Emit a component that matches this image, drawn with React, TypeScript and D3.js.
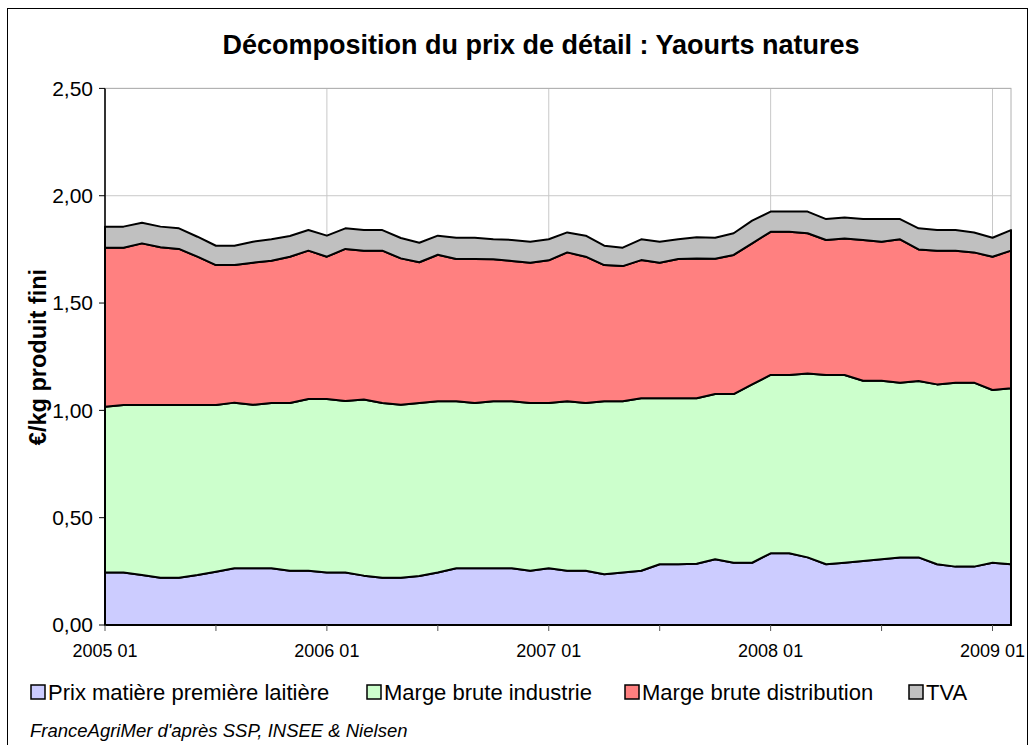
import React from "react";
import * as d3 from "d3";

const seriesNames = [
  "Prix matière première laitière",
  "Marge brute industrie",
  "Marge brute distribution",
  "TVA",
];
const seriesColors = ["#CCCCFF", "#CCFFCC", "#FF8080", "#C0C0C0"];

// monthly values 2005 01 .. 2009 02 (€/kg produit fini)
const prixMatiere = [
  0.245, 0.245, 0.233, 0.22, 0.22, 0.233, 0.248, 0.264, 0.264, 0.264, 0.253, 0.253,
  0.245, 0.245, 0.23, 0.22, 0.22, 0.228, 0.245, 0.264, 0.264, 0.264, 0.264, 0.253,
  0.264, 0.253, 0.253, 0.236, 0.245, 0.253, 0.283, 0.283, 0.285, 0.306, 0.29, 0.29,
  0.334, 0.334, 0.315, 0.283, 0.29, 0.298, 0.306, 0.315, 0.315, 0.283, 0.272, 0.272,
  0.29, 0.283,
];
const margeIndustrie = [
  0.772, 0.78, 0.792, 0.805, 0.805, 0.792, 0.777, 0.772, 0.762, 0.77, 0.781, 0.8,
  0.808, 0.799, 0.821, 0.814, 0.806, 0.806, 0.797, 0.778, 0.77, 0.778, 0.778, 0.781,
  0.77, 0.789, 0.781, 0.806, 0.797, 0.803, 0.773, 0.773, 0.771, 0.77, 0.786, 0.831,
  0.831, 0.831, 0.857, 0.882, 0.875, 0.84, 0.832, 0.814, 0.822, 0.838, 0.857, 0.857,
  0.805, 0.82,
];
const margeDistribution = [
  0.741, 0.733, 0.753, 0.735, 0.727, 0.691, 0.652, 0.641, 0.662, 0.663, 0.682, 0.691,
  0.663, 0.708, 0.693, 0.71, 0.682, 0.656, 0.683, 0.663, 0.671, 0.662, 0.654, 0.654,
  0.665, 0.694, 0.682, 0.635, 0.63, 0.644, 0.632, 0.649, 0.652, 0.63, 0.648, 0.657,
  0.667, 0.667, 0.653, 0.629, 0.636, 0.656, 0.648, 0.668, 0.613, 0.623, 0.615, 0.607,
  0.621, 0.641,
];
const tva = [
  0.098, 0.098, 0.096, 0.096, 0.096, 0.093, 0.09, 0.09, 0.098, 0.1, 0.096, 0.096,
  0.098, 0.096, 0.096, 0.096, 0.095, 0.091, 0.089, 0.099, 0.099, 0.093, 0.098, 0.098,
  0.098, 0.093, 0.098, 0.09, 0.086, 0.097, 0.098, 0.092, 0.098, 0.098, 0.101, 0.106,
  0.094, 0.094, 0.101, 0.097, 0.098, 0.097, 0.105, 0.094, 0.098, 0.096, 0.096, 0.093,
  0.088, 0.096,
];

const yTicks = [0, 0.5, 1, 1.5, 2, 2.5];
const xLabelIdx = [0, 12, 24, 36, 48];
const xLabels = ["2005 01", "2006 01", "2007 01", "2008 01", "2009 01"];
const xMinorIdx = [0, 6, 12, 18, 24, 30, 36, 42, 48];

const title = "Décomposition du prix de détail : Yaourts natures";
const yTitle = "€/kg produit fini";
const source = "FranceAgriMer d'après SSP, INSEE & Nielsen";

const FONT = "'Liberation Sans', Arial, sans-serif";

export default function App() {
  const W = 1035;
  const H = 745;
  const left = 105;
  const right = 1011;
  const top = 88.4;
  const bottom = 625;

  const table = prixMatiere.map((_, i) => ({
    i,
    s0: prixMatiere[i],
    s1: margeIndustrie[i],
    s2: margeDistribution[i],
    s3: tva[i],
  }));
  const keys = ["s0", "s1", "s2", "s3"];
  const stacked = d3.stack<any>().keys(keys)(table);

  const x = d3.scaleLinear().domain([0, prixMatiere.length - 1]).range([left, right]);
  const y = d3.scaleLinear().domain([0, 2.5]).range([bottom, top]);

  const area = d3
    .area<any>()
    .x((d) => x(d.data.i))
    .y0((d) => y(d[0]))
    .y1((d) => y(d[1]));

  const fmt = (v: number) => d3.format(".2f")(v).replace(".", ",");

  const legendX = [31, 367, 625, 909];

  return (
    <svg
      width={W}
      height={H}
      style={{ position: "absolute", left: 0, top: 0, background: "#fff" }}
      fontFamily={FONT}
    >
      <rect x={7.5} y={8.5} width={1020} height={760} fill="#fff" stroke="#000" strokeWidth={1} />
      <text x={541} y={54} textAnchor="middle" fontSize={27} fontWeight="bold" fill="#000">
        {title}
      </text>

      {/* gridlines */}
      {yTicks.map((t) => (
        <line key={"gy" + t} x1={left} x2={right} y1={y(t)} y2={y(t)} stroke="#c8c8c8" strokeWidth={1} />
      ))}
      {xLabelIdx.map((i) => (
        <line key={"gx" + i} x1={x(i)} x2={x(i)} y1={top} y2={bottom} stroke="#c8c8c8" strokeWidth={1} />
      ))}
      <rect x={left} y={top} width={right - left} height={bottom - top} fill="none" stroke="#b0b0b0" strokeWidth={1} />

      {/* areas */}
      {stacked.map((s, k) => (
        <path
          key={k}
          d={area(s as any) || ""}
          fill={seriesColors[k]}
          stroke="#000"
          strokeWidth={2}
          strokeLinejoin="round"
        />
      ))}

      {/* axes */}
      <line x1={left} x2={left} y1={top} y2={bottom} stroke="#000" strokeWidth={1.5} />
      <line x1={left - 1} x2={right + 1} y1={bottom} y2={bottom} stroke="#000" strokeWidth={2} />
      {yTicks.map((t) => (
        <g key={"ty" + t}>
          <line x1={left - 6} x2={left} y1={y(t)} y2={y(t)} stroke="#000" strokeWidth={1} />
          <text x={left - 12} y={y(t)} dy="0.35em" textAnchor="end" fontSize={21} fill="#000">
            {fmt(t)}
          </text>
        </g>
      ))}
      {xMinorIdx.map((i) => (
        <line key={"tx" + i} x1={x(i)} x2={x(i)} y1={bottom} y2={bottom + 6} stroke="#555" strokeWidth={1} />
      ))}
      {xLabelIdx.map((i, k) => (
        <text key={"lx" + i} x={x(i)} y={651} dy="0.35em" textAnchor="middle" fontSize={18} fill="#000">
          {xLabels[k]}
        </text>
      ))}

      <text
        transform={`translate(38,357) rotate(-90)`}
        textAnchor="middle"
        dy="0.35em"
        fontSize={23.5}
        fontWeight="bold"
        fill="#000"
      >
        {yTitle}
      </text>

      {/* legend */}
      {seriesNames.map((n, k) => (
        <g key={"lg" + k}>
          <rect x={legendX[k]} y={685} width={14} height={14} fill={seriesColors[k]} stroke="#000" strokeWidth={1.5} />
          <text x={legendX[k] + 17} y={692} dy="0.35em" fontSize={22} fill="#000">
            {n}
          </text>
        </g>
      ))}

      <text x={30} y={731} dy="0.35em" fontSize={18.5} fontStyle="italic" fill="#000">
        {source}
      </text>
    </svg>
  );
}
